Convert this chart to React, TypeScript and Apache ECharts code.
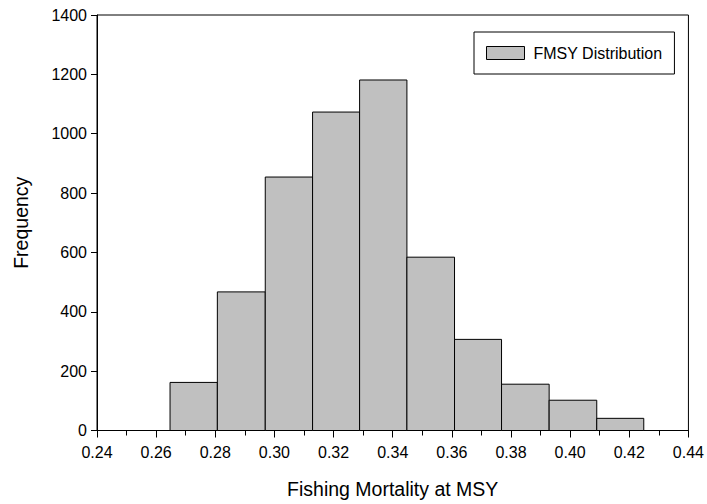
import React, { useEffect, useRef } from "react";
import * as echarts from "echarts";

const binEdges = [0.2647, 0.2807, 0.2969, 0.3129, 0.3288, 0.3448, 0.3609, 0.3768, 0.3929, 0.409, 0.4249];
const counts = [162, 467, 854, 1073, 1181, 584, 307, 156, 102, 41];
const seriesName = "FMSY Distribution";
const xTitle = "Fishing Mortality at MSY";
const yTitle = "Frequency";

const FONT = "'Liberation Sans', Arial, Helvetica, sans-serif";

export default function App() {
  const ref = useRef<HTMLDivElement>(null);
  useEffect(() => {
    if (!ref.current) return;
    const chart = echarts.init(ref.current, undefined, { renderer: "svg" });
    const data = counts.map((c, i) => [binEdges[i], binEdges[i + 1], c]);
    chart.setOption({
      animation: false,
      backgroundColor: "#fff",
      grid: {
        left: 97,
        top: 15,
        right: 17.5,
        bottom: 73.5,
        show: true,
        borderColor: "#000",
        borderWidth: 1,
        backgroundColor: "transparent",
      },
      legend: {
        left: 474,
        top: 32,
        orient: "vertical",
        padding: [13, 12, 13, 12],
        borderColor: "#000",
        borderWidth: 1,
        backgroundColor: "#fff",
        itemWidth: 38,
        itemHeight: 13,
        selectedMode: false,
        textStyle: { fontSize: 16, color: "#000", fontFamily: FONT, padding: [0, 0, 0, 4] },
        data: [
          {
            name: seriesName,
            icon: "rect",
            itemStyle: { color: "#c0c0c0", borderColor: "#000", borderWidth: 1 },
          },
        ],
      },
      xAxis: {
        type: "value",
        min: 0.24,
        max: 0.44,
        interval: 0.02,
        name: xTitle,
        nameLocation: "middle",
        nameGap: 48,
        nameTextStyle: { fontSize: 19.5, color: "#000", fontFamily: FONT },
        axisLine: { show: true, onZero: false, lineStyle: { color: "#000", width: 1 } },
        axisTick: { show: true, inside: false, length: 7, lineStyle: { color: "#000" } },
        minorTick: { show: true, splitNumber: 2, length: 5, lineStyle: { color: "#000" } },
        splitLine: { show: false },
        minorSplitLine: { show: false },
        axisLabel: {
          fontSize: 16,
          color: "#000",
          fontFamily: FONT,
          margin: 14,
          formatter: (v: number) => v.toFixed(2),
        },
      },
      yAxis: {
        type: "value",
        min: 0,
        max: 1400,
        interval: 200,
        name: yTitle,
        nameLocation: "middle",
        nameGap: 66,
        nameTextStyle: { fontSize: 19.5, color: "#000", fontFamily: FONT },
        axisLine: { show: true, lineStyle: { color: "#000", width: 1 } },
        axisTick: { show: true, inside: false, length: 6, lineStyle: { color: "#000" } },
        splitLine: { show: false },
        axisLabel: {
          fontSize: 16,
          color: "#000",
          fontFamily: FONT,
          margin: 10,
          formatter: (v: number) => String(Math.round(v)),
        },
      },
      series: [
        {
          name: seriesName,
          type: "custom",
          itemStyle: { color: "#c0c0c0", borderColor: "#000", borderWidth: 1 },
          encode: { x: [0, 1], y: 2 },
          data,
          renderItem: (params: any, api: any) => {
            const p0 = api.coord([api.value(0), api.value(2)]);
            const p1 = api.coord([api.value(1), 0]);
            return {
              type: "rect",
              shape: { x: p0[0], y: p0[1], width: p1[0] - p0[0], height: p1[1] - p0[1] },
              style: { fill: "#c0c0c0", stroke: "#000", lineWidth: 1 },
            };
          },
        },
      ],
    });
    return () => chart.dispose();
  }, []);
  return <div ref={ref} style={{ position: "fixed", left: 0, top: 0, width: 707, height: 504 }} />;
}
